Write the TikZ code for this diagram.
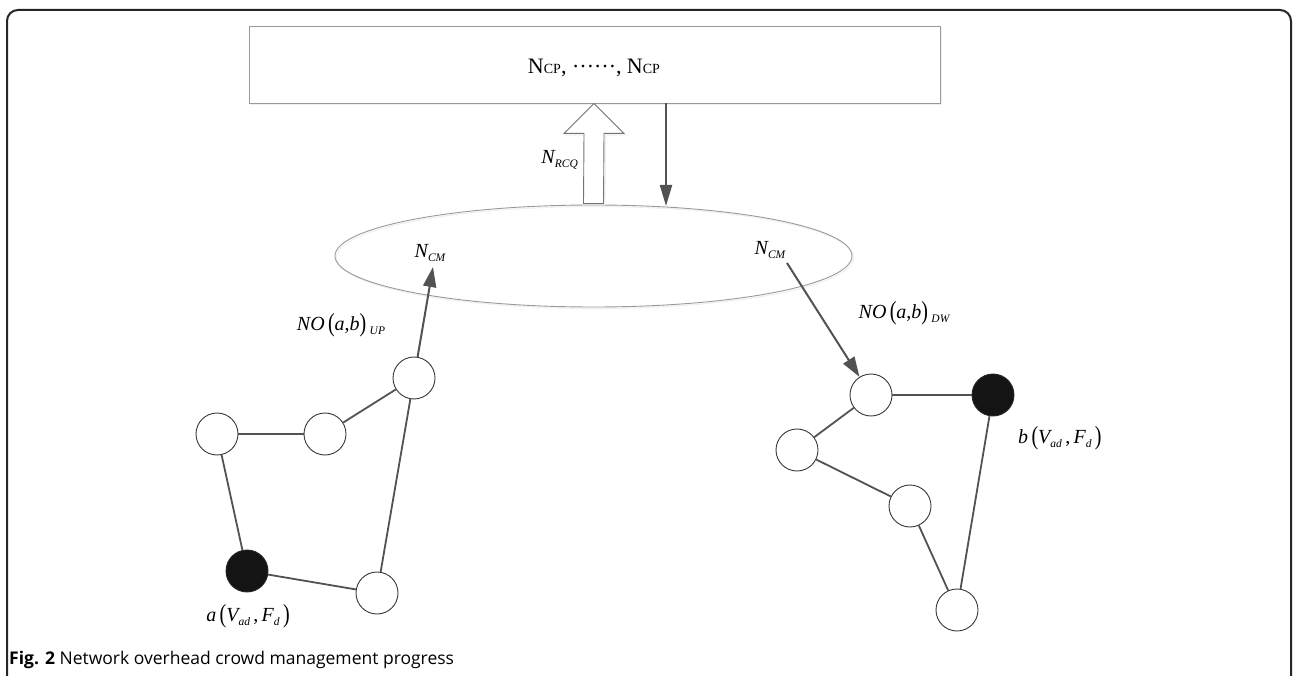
\documentclass[tikz,border=0pt]{standalone}
\usepackage{fontspec}
\usepackage{graphicx}
\setmainfont{Liberation Serif}
\newfontfamily\capfont{Open Sans}
\usetikzlibrary{arrows.meta,shapes.geometric,calc}
\newcommand\lsub[1]{\raisebox{-0.45ex}{\fontsize{11.5}{11.5}\selectfont\itshape #1}}
\newcommand\bpar[1]{\raisebox{-0.06em}{\scalebox{1}[1.3]{\upshape #1}}}
\begin{document}
\begin{tikzpicture}[x=1pt,y=-1pt,
  circ/.style={circle, draw=black!78, line width=0.9pt, fill=white, minimum size=42pt, inner sep=0pt},
  blk/.style={circle, draw=black!85, line width=0.9pt, fill=black!92, minimum size=42pt, inner sep=0pt},
  edge/.style={draw=black!68, line width=1.8pt},
  conn/.style={draw=black!68, line width=2pt, -{Triangle[length=20pt,width=13pt]}},
  lbl/.style={inner sep=0pt, font=\fontsize{20}{20}\selectfont},
  thin/.style={draw=black!40, line width=0.9pt},
  shad/.style={draw=black!6, line width=1.2pt},
]
\useasboundingbox (0,0) rectangle (1293,676);
\clip (0,0) rectangle (1293,676);
\draw[line width=2pt, black!85, rounded corners=11pt] (7,10) rectangle (1291,700);

% top box and ellipse (with faint shadows)
\node[shad, minimum width=691pt, minimum height=77pt, inner sep=0pt] (boxs) at (596,66) {};
\node[thin, fill=white, minimum width=691pt, minimum height=77pt, inner sep=0pt] (box) at (594.5,64.5) {};
\node[inner sep=0pt, font=\fontsize{22}{22}\selectfont] (ncp) at (594,68)
  {N{\fontsize{14}{14}\selectfont CP}, \raisebox{0.28em}{……}, N{\fontsize{14}{14}\selectfont CP}};
\node[shad, ellipse, minimum width=517pt, minimum height=102pt, inner sep=0pt] (ells) at (595,257.5) {};
\node[thin, ellipse, minimum width=517pt, minimum height=102pt, inner sep=0pt] (ell) at (593.5,256) {};

% hollow up arrow
\coordinate (hb) at ($(ell.north)$);
\coordinate (ht) at ($(box.south)+(-0.5,0)$);
\draw[shad]
  ($(hb)+(-8.5,-1)$) -- ($(ht)+(-8.5,31.5)$) -- ($(ht)+(-28.5,31.5)$) -- ($(ht)+(1.5,1.5)$)
  -- ($(ht)+(31.5,31.5)$) -- ($(ht)+(11.5,31.5)$) -- ($(hb)+(11.5,-1)$);
\draw[draw=black!55, line width=0.9pt, fill=white]
  ($(hb)+(-10,-1)$) -- ($(ht)+(-10,30)$) -- ($(ht)+(-30,30)$) -- (ht)
  -- ($(ht)+(30,30)$) -- ($(ht)+(10,30)$) -- ($(hb)+(10,-1)$) -- cycle;
% down arrow
\coordinate (ds) at ($(box.south)+(71.5,0)$);
\coordinate (de) at (666,206);
\draw[draw=black!68, line width=2pt, -{Triangle[length=21pt,width=12pt]}] (ds) -- (de);
\node[lbl, anchor=east] (nrcq) at (578,160) {\itshape N\lsub{RCQ}};

% labels in ellipse
\node[lbl] (ncm1) at (430,253) {\itshape N\lsub{CM}};
\node[lbl] (ncm2) at (770,250) {\itshape N\lsub{CM}};

% left group
\node[circ] (lTR) at (414,378) {};
\node[circ] (lM) at (325,434) {};
\node[circ] (lL) at (217,434) {};
\node[blk] (lA) at (247,571) {};
\node[circ] (lBR) at (377,593) {};
\draw[edge] (lL) -- (lM);
\draw[edge] (lM) -- (lTR);
\draw[edge] (lL) -- (lA);
\draw[edge] (lA) -- (lBR);
\draw[edge] (lBR) -- (lTR);
\coordinate (tipL) at (433,267);
\draw[conn] (lTR) -- (tipL);
\node[lbl] (noup) at (341,325) {{\itshape NO}\,\bpar{(}{\itshape a},{\itshape b}\bpar{)}\,\lsub{UP}};
\node[lbl] (la) at (248,616) {{\itshape a}\,\bpar{(}{\itshape V}\lsub{ad}\,,\,{\itshape F}\lsub{d}\,\bpar{)}};

% right group
\node[circ] (rT) at (871,395) {};
\node[blk] (rB) at (993,395) {};
\node[circ] (rL) at (797,450) {};
\node[circ] (rM) at (910,506) {};
\node[circ] (rBot) at (957,610) {};
\draw[edge] (rT) -- (rB);
\draw[edge] (rT) -- (rL);
\draw[edge] (rL) -- (rM);
\draw[edge] (rM) -- (rBot);
\draw[edge] (rBot) -- (rB);
\coordinate (srcR) at (787,263);
\draw[conn] (srcR) -- (rT);
\node[lbl] (nodw) at (904,313) {{\itshape NO}\,\bpar{(}{\itshape a},{\itshape b}\bpar{)}\,\lsub{DW}};
\node[lbl, anchor=west] (lb) at (1018,438) {{\itshape b}\,\bpar{(}{\itshape V}\lsub{ad}\,,\,{\itshape F}\lsub{d}\,\bpar{)}};

% caption
\node[anchor=base west, inner sep=0pt, font=\capfont\fontsize{17.5}{17.5}\selectfont] (cap) at (9,664)
  {\textbf{Fig. 2} Network overhead crowd management progress};
\end{tikzpicture}
\end{document}
